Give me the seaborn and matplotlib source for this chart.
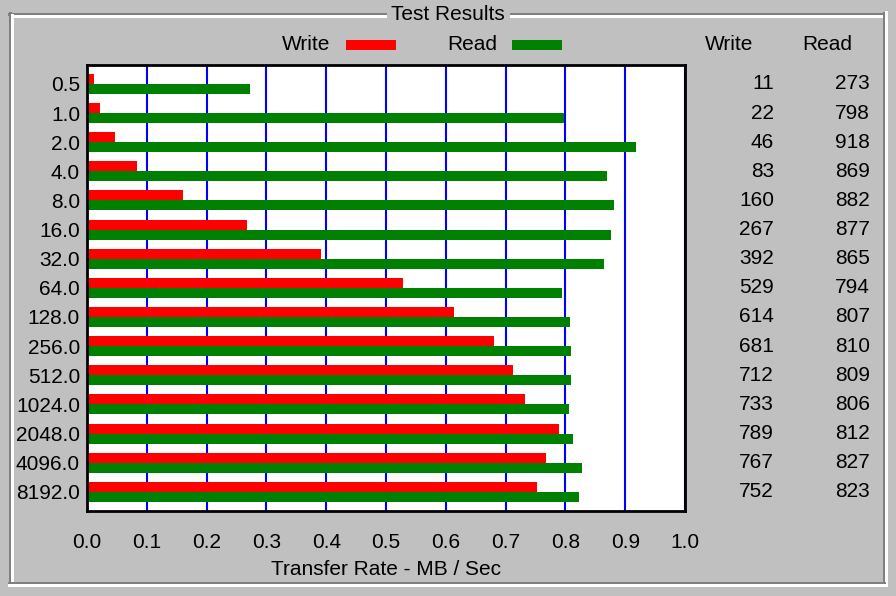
import matplotlib
matplotlib.use("Agg")
import matplotlib.pyplot as plt
from matplotlib.lines import Line2D
from matplotlib.patches import Rectangle
import numpy as np
import pandas as pd
import seaborn as sns

sizes = ["0.5", "1.0", "2.0", "4.0", "8.0", "16.0", "32.0", "64.0", "128.0",
         "256.0", "512.0", "1024.0", "2048.0", "4096.0", "8192.0"]
write_kb = [11, 22, 46, 83, 160, 267, 392, 529, 614, 681, 712, 733, 789, 767, 752]
read_kb = [273, 798, 918, 869, 882, 877, 865, 794, 807, 810, 809, 806, 812, 827, 823]
x_ticks = [0.0, 0.1, 0.2, 0.3, 0.4, 0.5, 0.6, 0.7, 0.8, 0.9, 1.0]

df = pd.DataFrame({
    "size": sizes * 2,
    "rate": [v / 1000 for v in write_kb] + [v / 1000 for v in read_kb],
    "type": ["Write"] * len(sizes) + ["Read"] * len(sizes),
})

BG = "#C0C0C0"
FONT = "Liberation Sans"
FS = 15
plt.rcParams["font.family"] = [FONT, "DejaVu Sans"]

W, H = 896, 596
fig = plt.figure(figsize=(W / 100, H / 100), dpi=100, facecolor=BG)

def fx(x):
    return x / W

def fy(y):
    return 1 - y / H

L, R, T, B = 87, 685, 65, 511
ax = fig.add_axes([fx(L), fy(B), (R - L) / W, (B - T) / H])
ax.set_facecolor("white")

sns.barplot(data=df, y="size", x="rate", hue="type", order=sizes,
            hue_order=["Write", "Read"],
            palette={"Write": "#FF0000", "Read": "#008000"},
            orient="h", width=0.686, dodge=True, saturation=1,
            linewidth=0, legend=False, errorbar=None, ax=ax)

ax.set_xlim(0, 1.0)
ax.set_ylim(14.66, -0.65)
ax.set_xticks(x_ticks)
ax.set_xticklabels([f"{t:.1f}" for t in x_ticks], fontsize=FS)
ax.tick_params(axis="x", length=0, pad=15.5)
ax.tick_params(axis="y", length=0, pad=5, labelsize=FS)
ax.grid(axis="x", color="#0000FF", linewidth=1.5)
ax.grid(axis="y", visible=False)
ax.set_axisbelow(True)
for s in ax.spines.values():
    s.set_color("black")
    s.set_linewidth(2.0)
ax.set_ylabel("")
ax.set_xlabel("Transfer Rate - MB / Sec", fontsize=FS, labelpad=6)

# Legend
fig.text(fx(330), fy(45), "Write", ha="right", va="center", fontsize=FS)
fig.patches.append(Rectangle((fx(346), fy(50)), 50 / W, 10 / H,
                             transform=fig.transFigure, color="#FF0000", lw=0))
fig.text(fx(497), fy(45), "Read", ha="right", va="center", fontsize=FS)
fig.patches.append(Rectangle((fx(512), fy(50)), 50 / W, 10 / H,
                             transform=fig.transFigure, color="#008000", lw=0))

# Right table
fig.text(fx(729), fy(45), "Write", ha="center", va="center", fontsize=FS)
fig.text(fx(827), fy(45), "Read", ha="center", va="center", fontsize=FS)
for i, (w, r) in enumerate(zip(write_kb, read_kb)):
    yy = ax.transData.transform((0, i))[1]
    yfig = fig.transFigure.inverted().transform((0, yy))[1]
    fig.text(fx(774), yfig, str(w), ha="right", va="center", fontsize=FS)
    fig.text(fx(870), yfig, str(r), ha="right", va="center", fontsize=FS)

# Group box frame
def hline(y, x0, x1, c):
    fig.lines.append(Line2D([fx(x0), fx(x1)], [fy(y), fy(y)], transform=fig.transFigure,
                            color=c, lw=0.9, antialiased=False))

def vline(x, y0, y1, c):
    fig.lines.append(Line2D([fx(x), fx(x)], [fy(y0), fy(y1)], transform=fig.transFigure,
                            color=c, lw=0.9, antialiased=False))

GRAY, WHITE = "#808080", "#FFFFFF"
hline(13.5, 9, 385, GRAY); hline(13.5, 511, 884, GRAY)
hline(15.5, 11, 385, WHITE); hline(15.5, 511, 882, WHITE)
vline(9.5, 13, 583, GRAY); vline(11.5, 15, 582, WHITE)
vline(883.5, 13, 583, GRAY); vline(885.5, 12, 585, WHITE)
hline(582.5, 9, 884, GRAY); hline(584.5, 9, 886, WHITE)

fig.text(fx(448), fy(14), "Test Results", ha="center", va="center", fontsize=FS)

fig.savefig("out.png", dpi=100, facecolor=BG)
